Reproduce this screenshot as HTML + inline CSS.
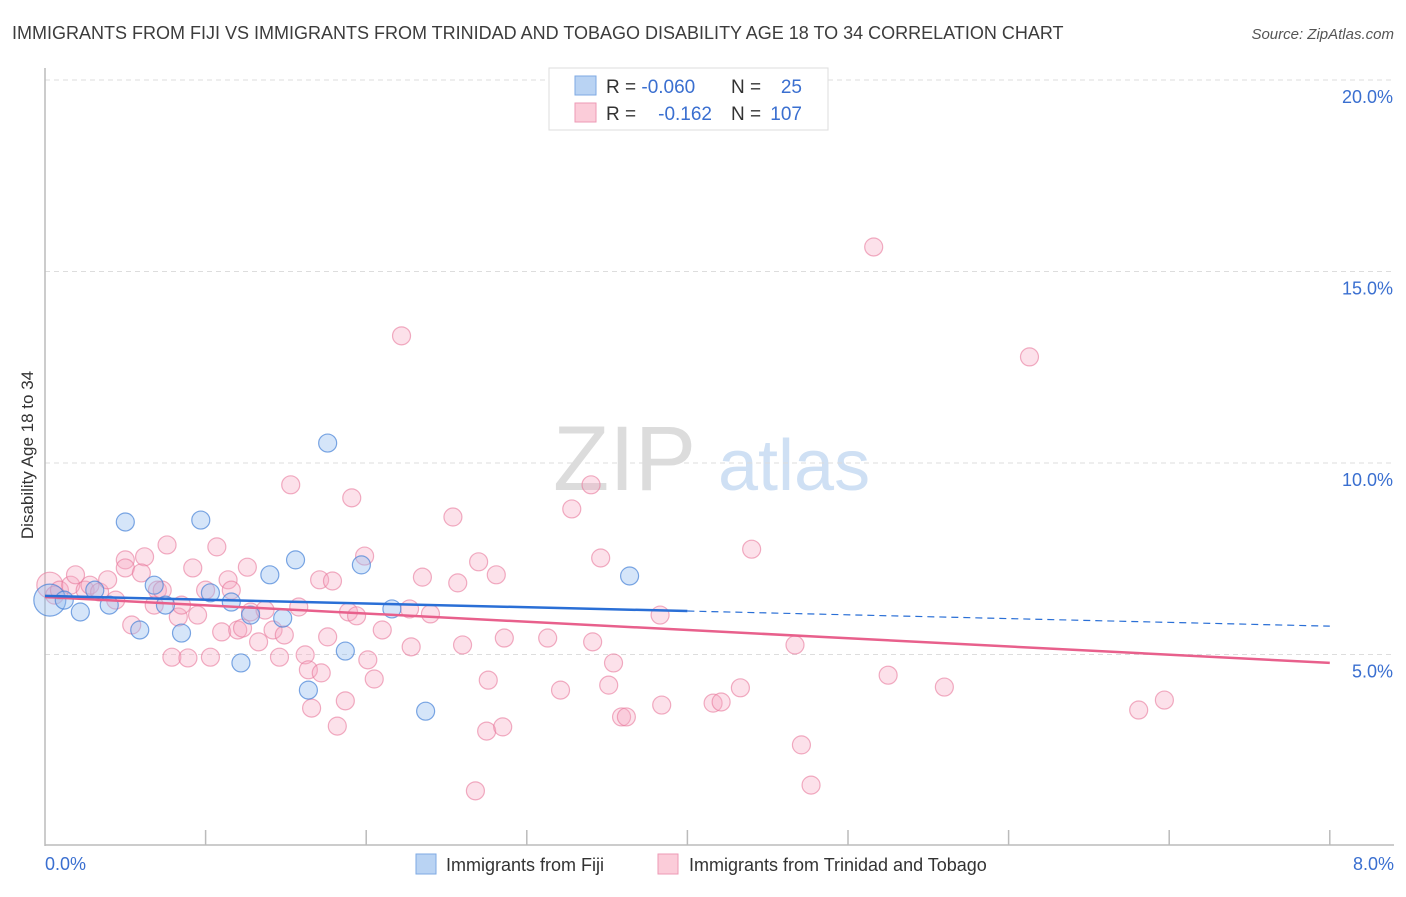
<!DOCTYPE html>
<html><head><meta charset="utf-8"><style>
body{margin:0;background:#fff;font-family:"Liberation Sans",sans-serif;}
svg text{font-family:"Liberation Sans",sans-serif;}
</style></head><body>
<svg id="chart" width="1406" height="892" xmlns="http://www.w3.org/2000/svg">
<text x="12" y="39" font-size="18" fill="#3c3c3c">IMMIGRANTS FROM FIJI VS IMMIGRANTS FROM TRINIDAD AND TOBAGO DISABILITY AGE 18 TO 34 CORRELATION CHART</text>
<text x="1394" y="39" font-size="15" fill="#555" text-anchor="end" font-style="italic">Source: ZipAtlas.com</text>
<g>
<text x="553" y="490" font-size="92" fill="#dcdcdc" font-family="Liberation Serif, serif">ZIP</text>
<text x="718" y="490" font-size="72" fill="#cfe0f4">atlas</text>
</g>
<g id="grid"></g>
<line x1="45" y1="68" x2="45" y2="846" stroke="#bbb" stroke-width="1.5"/>
<line x1="45" y1="845" x2="1394" y2="845" stroke="#bbb" stroke-width="1.5"/>
<g id="xticks"></g>
<g id="ylabels"></g>
<text transform="translate(33,455) rotate(-90)" font-size="17" fill="#333" text-anchor="middle">Disability Age 18 to 34</text>
<text x="45" y="870" font-size="18" fill="#3a6fd0">0.0%</text>
<text x="1394" y="870" font-size="18" fill="#3a6fd0" text-anchor="end">8.0%</text>
<g id="pink"></g>
<g id="blue"></g>
<g id="lines"></g>
<g>
<rect x="549" y="68" width="279" height="62" fill="#fff" stroke="#ddd"/>
<rect x="575" y="76" width="21" height="19" fill="#b9d3f3" stroke="#7ea9e3"/>
<rect x="575" y="103" width="21" height="19" fill="#fbccd9" stroke="#ee9ab5"/>
<text x="606" y="93" font-size="19" fill="#333">R = <tspan fill="#3a6fd0">-0.060</tspan></text>
<text x="731" y="93" font-size="19" fill="#333">N =</text>
<text x="802" y="93" font-size="19" fill="#3a6fd0" text-anchor="end">25</text>
<text x="606" y="120" font-size="19" fill="#333">R = </text>
<text x="712" y="120" font-size="19" fill="#3a6fd0" text-anchor="end">-0.162</text>
<text x="731" y="120" font-size="19" fill="#333">N =</text>
<text x="802" y="120" font-size="19" fill="#3a6fd0" text-anchor="end">107</text>
</g>
<g>
<rect x="416" y="854" width="20" height="20" fill="#b9d3f3" stroke="#7ea9e3"/>
<text x="446" y="871" font-size="18" fill="#333">Immigrants from Fiji</text>
<rect x="658" y="854" width="20" height="20" fill="#fbccd9" stroke="#ee9ab5"/>
<text x="689" y="871" font-size="18" fill="#333">Immigrants from Trinidad and Tobago</text>
</g>
</svg>
<script>
const yTicks=[5,10,15,20];
const yTickLabels=["5.0%","10.0%","15.0%","20.0%"];
const xTicks=[1,2,3,4,5,6,7,8];
const fijiX=[0.03,0.12,0.31,0.22,0.40,0.50,0.59,0.68,0.75,0.85,0.97,1.03,1.16,1.22,1.28,1.40,1.48,1.56,1.64,1.76,1.87,1.97,2.16,2.37,3.64];
const fijiY=[6.42,6.42,6.68,6.11,6.29,8.46,5.64,6.81,6.29,5.56,8.51,6.61,6.37,4.78,6.03,7.08,5.95,7.47,4.07,10.52,5.09,7.34,6.19,3.52,7.05];
const triX=[0.03,0.06,0.09,0.16,0.19,0.25,0.28,0.34,0.39,0.44,0.50,0.50,0.54,0.62,0.60,0.68,0.70,0.73,0.76,0.79,0.83,0.85,0.89,0.92,0.95,1.00,1.03,1.07,1.10,1.14,1.16,1.20,1.23,1.26,1.28,1.33,1.37,1.42,1.46,1.49,1.53,1.58,1.62,1.64,1.66,1.71,1.72,1.76,1.79,1.82,1.87,1.89,1.91,1.94,1.99,2.01,2.05,2.10,2.22,2.27,2.28,2.35,2.40,2.54,2.57,2.60,2.68,2.70,2.75,2.76,2.81,2.85,2.86,3.13,3.21,3.28,3.40,3.41,3.46,3.51,3.54,3.59,3.62,3.83,3.84,4.16,4.21,4.33,4.40,4.67,4.71,4.77,5.16,5.25,5.60,6.13,6.81,6.97];
const triY=[6.81,6.55,6.68,6.81,7.08,6.68,6.81,6.63,6.95,6.42,7.47,7.26,5.77,7.55,7.13,6.29,6.68,6.68,7.86,4.93,5.98,6.29,4.91,7.26,6.03,6.68,4.93,7.81,5.59,6.95,6.68,5.64,5.69,7.28,6.11,5.33,6.16,5.64,4.93,5.51,9.43,6.24,4.99,4.60,3.60,6.95,4.52,5.46,6.92,3.13,3.79,6.11,9.09,6.01,7.57,4.86,4.36,5.64,13.32,6.19,5.20,7.02,6.06,8.59,6.87,5.25,1.44,7.42,3.00,4.33,7.08,3.11,5.43,5.43,4.07,8.80,9.43,5.33,7.52,4.20,4.78,3.37,3.37,6.03,3.68,3.73,3.76,4.13,7.75,5.25,2.64,1.59,15.64,4.46,4.15,12.77,3.55,3.81];
const fijiTrend=[6.53,5.74];
const triTrend=[6.50,4.78];
const NS="http://www.w3.org/2000/svg";
const sx=v=>45+v*160.6;
const sy=v=>846-v*38.3;
function mk(tag,attrs,parent){const e=document.createElementNS(NS,tag);for(const k in attrs)e.setAttribute(k,attrs[k]);parent.appendChild(e);return e;}
const grid=document.getElementById('grid');
yTicks.forEach((t,i)=>{
 const l=mk('line',{x1:45,x2:1394,y1:sy(t),y2:sy(t),stroke:'#ddd','stroke-dasharray':'5,4'},grid);
 
 
 const tx=mk('text',{x:1393,y:sy(t)+23,'font-size':18,fill:'#3a6fd0','text-anchor':'end'},document.getElementById('ylabels'));
 tx.textContent=yTickLabels[i];
 
 
});
xTicks.forEach(t=>{
 const l=mk('line',{x1:sx(t),x2:sx(t),y1:830,y2:845,stroke:'#bbb','stroke-width':1.5},document.getElementById('xticks'));
 
 
});
triX.forEach((x,i)=>{
 const c=mk('circle',{cx:sx(x),cy:sy(triY[i]),r:i==0?13:9,fill:'rgba(246,168,194,0.35)',stroke:'rgba(232,120,155,0.6)','stroke-width':1.2},document.getElementById('pink'));
 
 
});
fijiX.forEach((x,i)=>{
 const c=mk('circle',{cx:sx(x),cy:sy(fijiY[i]),r:i==0?16:9,fill:'rgba(150,190,240,0.4)',stroke:'rgba(70,130,215,0.7)','stroke-width':1.2},document.getElementById('blue'));
 
 
});
const lg=document.getElementById('lines');
const fy=x=>fijiTrend[0]+(fijiTrend[1]-fijiTrend[0])*x/8;
const ty=x=>triTrend[0]+(triTrend[1]-triTrend[0])*x/8;
let l1=mk('line',{x1:sx(0),y1:sy(ty(0)),x2:sx(8),y2:sy(ty(8)),stroke:'#e8608c','stroke-width':2.5},lg);


let l2=mk('line',{x1:sx(0),y1:sy(fy(0)),x2:sx(4),y2:sy(fy(4)),stroke:'#2a6fd6','stroke-width':2.5},lg);


let l3=mk('line',{x1:sx(4),y1:sy(fy(4)),x2:sx(8),y2:sy(fy(8)),stroke:'#2a6fd6','stroke-width':1.2,'stroke-dasharray':'7,5'},lg);


</script>
</body></html>
